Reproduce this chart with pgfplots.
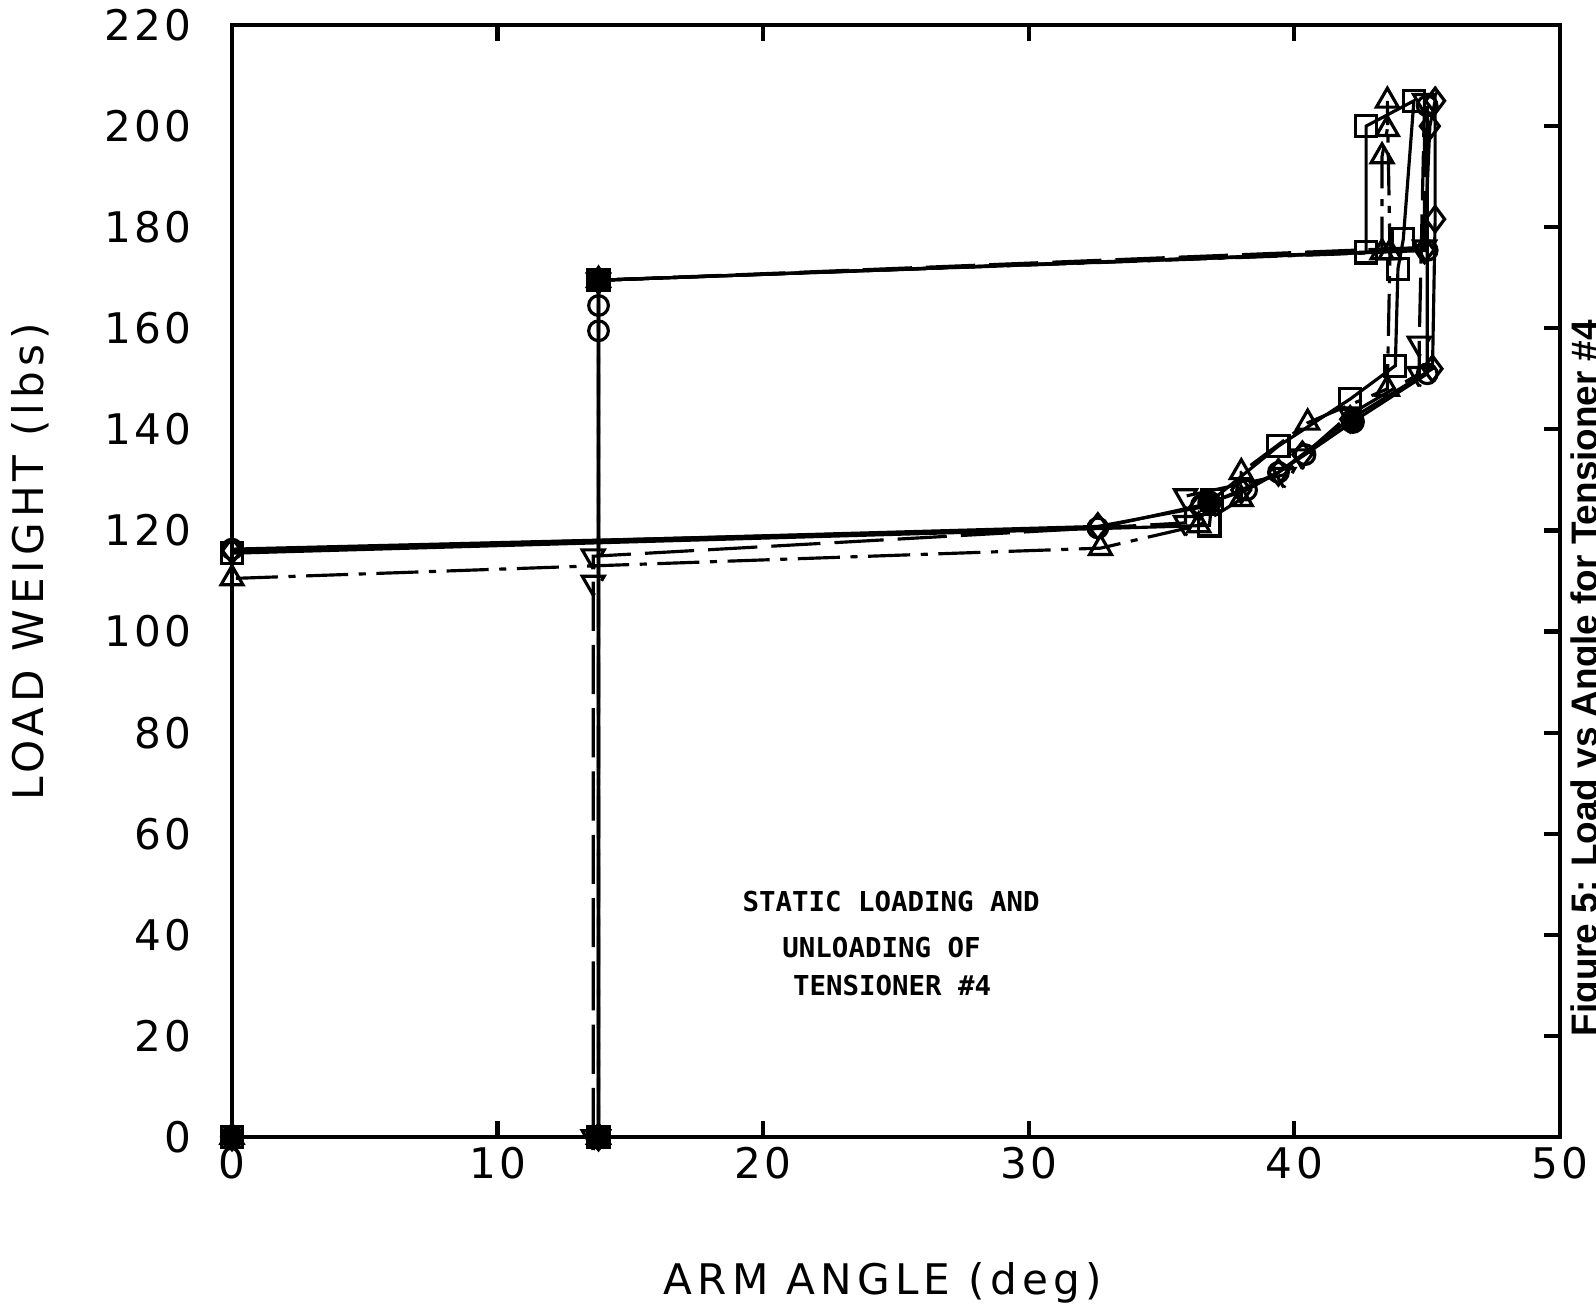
\documentclass[border=0pt]{standalone}
\usepackage{fontspec}
\setmainfont{DejaVu Sans}
\newfontfamily\annfont{DejaVu Sans Mono}
\newfontfamily\capfont{Liberation Sans}
\usepackage{pgfplots}
\pgfplotsset{compat=1.18}

\begin{document}
\begin{tikzpicture}
\begin{axis}[
    scale only axis,
    width=13.28cm,
    height=11.12cm,
    xmin=0, xmax=50,
    ymin=0, ymax=220,
    xtick={0,10,...,50},
    ytick={0,20,...,220},
    tick align=inside,
    ytick pos=right,
    yticklabel pos=left,
    major tick length=0.16cm,
    axis line style={line width=1.2pt},
    every tick/.style={black, line width=1.2pt},
    /pgf/number format/assume math mode=true,
    tick label style={font=\fontsize{12}{14}\selectfont\addfontfeatures{LetterSpace=8}},
    xticklabel style={yshift=0.02cm},
    yticklabel style={xshift=-0.28cm},
    xlabel={ARM ANGLE (deg)},
    ylabel={LOAD WEIGHT (lbs)},
    label style={font=\fontsize{12}{14}\selectfont\addfontfeatures{LetterSpace=12}},
    xlabel style={at={(axis description cs:0.49,-0.131)}, anchor=center},
    ylabel style={at={(axis description cs:-0.152,0.517)}, anchor=center},
    clip=false,
    every axis plot/.append style={black, line width=0.9pt,
        mark options={solid, line width=0.9pt}},
]
% diamonds, solid
\addplot[mark=diamond, mark size=3.6pt] coordinates {
    (0,0) (0,116) (32.6,120.8) (36.4,124.5) (38.0,128) (39.4,131.5)
    (40.3,135) (42.1,142) (45.2,152) (45.3,181.6) (45.3,205)
    (45.1,200) (44.9,175.5) (13.8,169.5) (13.8,0)
};
% squares, solid
\addplot[mark=square, mark size=3pt] coordinates {
    (0,0) (0,115.5) (36.8,121) (36.9,126) (39.4,136.7) (42.1,146)
    (43.8,152.6) (43.9,171.8) (44.1,177.6) (44.5,205) (42.7,200)
    (42.7,175) (13.8,169.5) (13.8,0)
};
% triangles, dash dot
\addplot[mark=triangle, mark size=3.6pt, dash pattern=on 12pt off 3pt on 2pt off 3pt] coordinates {
    (0,0) (0,110.5) (32.7,116.5) (36.4,121) (38.0,126.2) (38.0,131.5)
    (40.5,141.3) (43.5,148) (43.6,175) (43.5,205) (43.5,199.4)
    (43.3,194) (43.3,175) (13.8,169.5) (13.8,0)
};
% inverted triangles, dashed
\addplot[mark=triangle, mark options={rotate=180}, mark size=3.6pt, dash pattern=on 14pt off 4pt] coordinates {
    (13.6,0) (13.6,109.7) (13.6,114.9) (35.9,121.5) (35.9,126.8)
    (39.6,131) (40.3,134.7) (42.1,143) (44.7,151) (44.7,157)
    (44.9,205) (44.9,176) (13.8,169.5) (13.8,0)
};
% circles, solid
\addplot[mark=o, mark size=2.8pt] coordinates {
    (0,0) (0,116.3) (32.6,120.5) (36.5,125) (38.2,128) (39.4,131.5)
    (40.4,135) (42.2,141.5) (45.0,151) (45.0,204) (45.0,175.4)
    (13.8,169.5) (13.8,164.5) (13.8,159.5) (13.8,0)
};
% overlapping marks that print as solid blobs
\addplot[only marks, mark=*, mark size=3pt] coordinates {
    (0,0) (13.8,0) (36.8,125.5) (42.2,141.5) (13.8,169.5)
};

\node[anchor=west, inner sep=0pt, font=\annfont\bfseries\fontsize{7.8}{9}\selectfont] at (axis cs:19.2,46.6) {STATIC LOADING AND};
\node[anchor=west, inner sep=0pt, font=\annfont\bfseries\fontsize{7.8}{9}\selectfont] at (axis cs:20.7,37.5) {UNLOADING OF};
\node[anchor=west, inner sep=0pt, font=\annfont\bfseries\fontsize{7.8}{9}\selectfont] at (axis cs:21.1,30.0) {TENSIONER \#4};
\end{axis}

\node[rotate=90, anchor=north west, inner sep=0pt,
      font=\capfont\bfseries\fontsize{10.5}{12}\selectfont]
      at (13.38,1.0) {Figure 5: Load vs Angle for Tensioner \#4};

\pgfresetboundingbox
\path[use as bounding box] (-2.32,-1.78) rectangle (13.64,11.37);
\end{tikzpicture}
\end{document}
